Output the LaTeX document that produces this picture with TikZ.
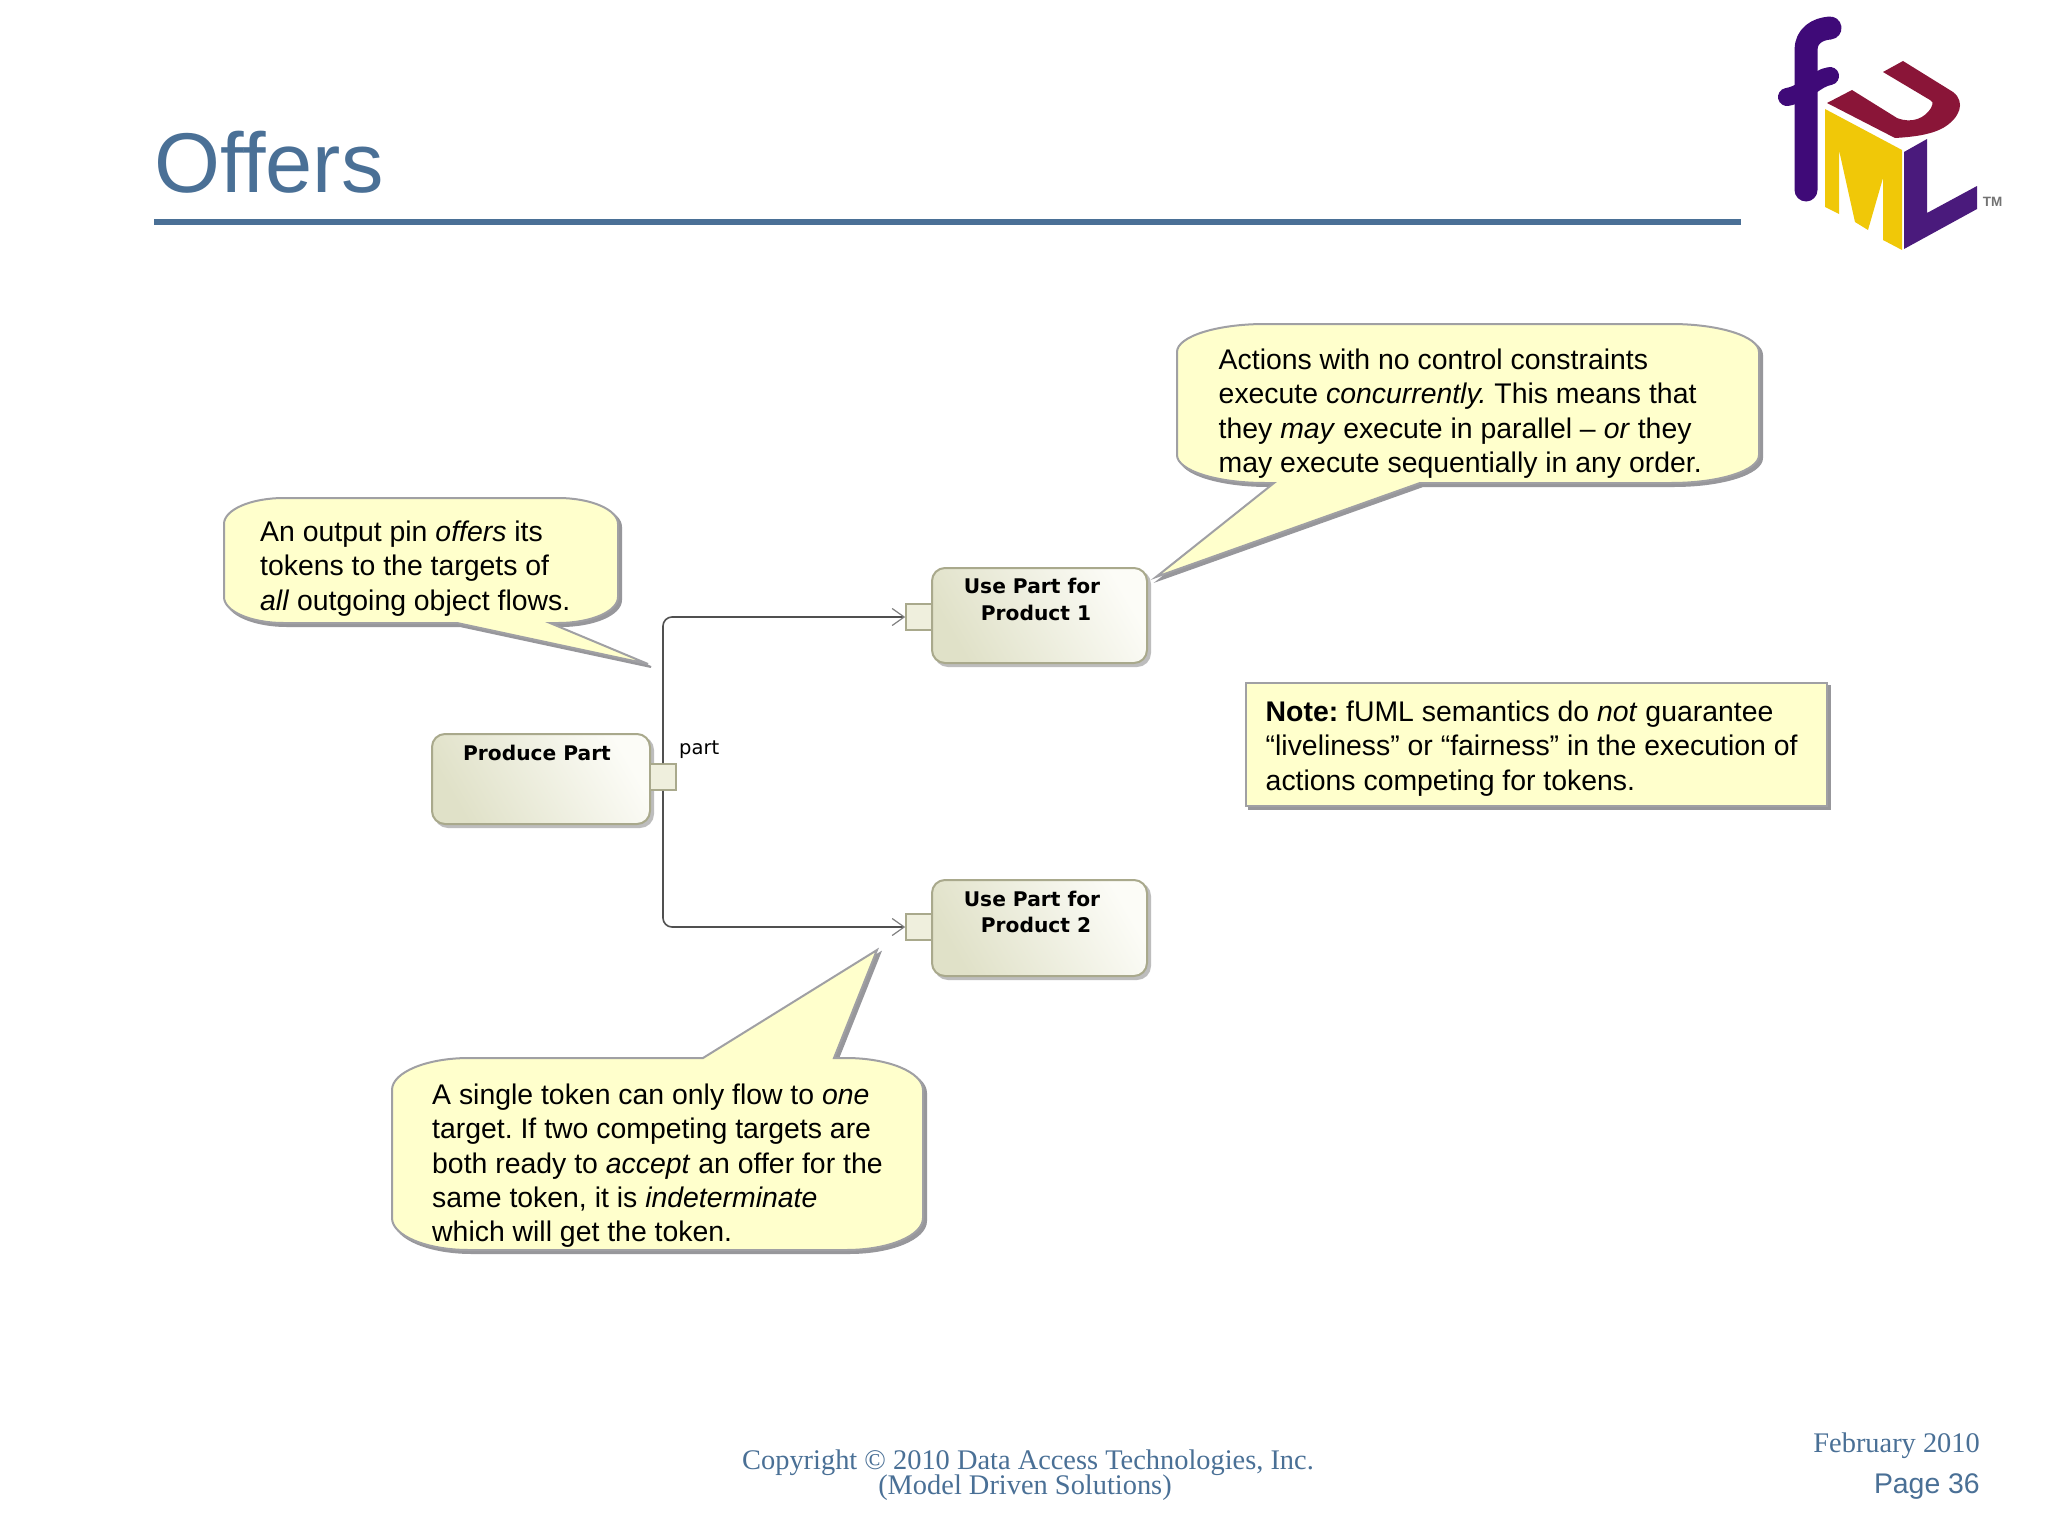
\documentclass[tikz,border=0pt]{standalone}
\usepackage{fontspec}
\setmainfont{Liberation Sans}
\newfontfamily\serifface{Liberation Serif}
\newfontfamily\boxface{DejaVu Sans}
\usetikzlibrary{arrows.meta}
\definecolor{slateblue}{HTML}{4A7096}
\definecolor{noteyellow}{HTML}{FFFFCC}
\definecolor{noteedge}{HTML}{A0A0A4}
\definecolor{shadowgray}{HTML}{97979B}
\definecolor{actedge}{HTML}{A9A98C}
\definecolor{actdark}{HTML}{E0E1C8}
\definecolor{actlight}{HTML}{FCFCF7}
\definecolor{actshadow}{HTML}{BDBDBD}
\definecolor{pinfill}{HTML}{EFEFDD}
\definecolor{flowline}{HTML}{505050}
\definecolor{fpurple}{HTML}{3F0A78}
\definecolor{lpurple}{HTML}{4A1A7C}
\definecolor{umaroon}{HTML}{8A1538}
\definecolor{myellow}{HTML}{F0C808}
\tikzset{
  x=1pt,y=-1pt,
  balloon/.style={draw=noteedge,line width=2pt,fill=noteyellow,line join=miter,
    preaction={draw=shadowgray,fill=shadowgray,line width=2pt,transform canvas={shift={(3pt,-3pt)}}}},
  blocktext/.style={inner sep=0pt,anchor=north west,align=left,text=black,font=\frenchspacing\fontsize{28.4}{34.2}\selectfont},
  notebox/.style={rectangle,inner sep=0pt,draw=noteedge,line width=2pt,fill=noteyellow,
    preaction={draw=shadowgray,fill=shadowgray,line width=2pt,transform canvas={shift={(3pt,-3pt)}}}},
  actionbox/.style={rectangle,rounded corners=13pt,inner sep=0pt,draw=actedge,line width=2pt,
    left color=actdark,right color=actlight,shading angle=120,
    preaction={draw=actshadow,fill=actshadow,line width=2pt,transform canvas={shift={(3pt,-3pt)}}}},
  pinbox/.style={rectangle,inner sep=0pt,draw=actedge,line width=1.6pt,fill=pinfill,minimum width=26pt,minimum height=26pt},
  actionlabel/.style={inner sep=0pt,anchor=base,text=black,font=\boxface\bfseries\fontsize{20.2}{26}\selectfont},
  flow/.style={draw=flowline,line width=1.6pt,rounded corners=9pt,
    -{Straight Barb[length=12pt,width=17pt,line width=1.2pt,color=gray]}},
  footer/.style={inner sep=0pt,anchor=base,text=slateblue,font=\serifface\fontsize{28.4}{30}\selectfont},
}
\begin{document}
\begin{tikzpicture}
\useasboundingbox (0,0) rectangle (2048,1536);
\fill[white] (0,0) rectangle (2048,1536);

% title
\node[inner sep=0pt,anchor=base west,text=slateblue,font=\fontsize{84.8}{90}\selectfont] (title) at (154,193) {Offers};
\fill[slateblue] (154,218.5) rectangle (1741,225);

% logo
\draw[fpurple,line width=23pt,line cap=round,line join=round]
  (1806,190) -- (1806,50) .. controls (1806,36) and (1817,29) .. (1830,28);
\draw[fpurple,line width=18pt,line cap=round] (1787,97) .. controls (1805,94) and (1816,78) .. (1830,76);
\fill[myellow] (1825,109) -- (1902,150) -- (1902,250) -- (1883,240) -- (1883,178) -- (1868,230) -- (1855,222) -- (1839,150) -- (1839,214) -- (1825,207) -- cycle;
\fill[umaroon] (1883,72) -- (1903,61) -- (1953,92) .. controls (1966,102) and (1960,118) .. (1943,128)
  .. controls (1930,135) and (1912,137) .. (1895,138) -- (1827,103) -- (1852,90) -- (1897,118)
  .. controls (1912,124) and (1925,118) .. (1931,108) .. controls (1934,102) and (1932,101) .. (1930,100) -- cycle;
\fill[lpurple] (1904,152) -- (1927,139) -- (1927,213) -- (1977,186) -- (1977,209) -- (1904,249) -- cycle;
\node[inner sep=0pt,anchor=center,text=black!55,font=\bfseries\fontsize{13.5}{14}\selectfont] (tm) at (1992.5,202) {TM};

% callouts
\draw[balloon] (1177,352) arc[start angle=180,end angle=90,x radius=88pt,y radius=28pt]
  -- (1671,324) arc[start angle=90,end angle=0,x radius=88pt,y radius=28pt]
  -- (1759,455) arc[start angle=0,end angle=-90,x radius=88pt,y radius=28pt]
  -- (1420,483) -- (1156,577) -- (1274,483)
  -- (1265,483) arc[start angle=270,end angle=180,x radius=88pt,y radius=28pt] -- cycle;
\node[blocktext] (t1) at (1218.5,349) {Actions with no control constraints\\execute \textit{concurrently.} This means that\\they \textit{may} execute in parallel – \textit{or} they\\may execute sequentially in any order.};

\draw[balloon] (224,524) arc[start angle=180,end angle=90,x radius=60pt,y radius=26pt]
  -- (558,498) arc[start angle=90,end angle=0,x radius=60pt,y radius=26pt]
  -- (618,597) arc[start angle=0,end angle=-90,x radius=60pt,y radius=26pt]
  -- (550,623) -- (648,664) -- (457,623)
  -- (284,623) arc[start angle=270,end angle=180,x radius=60pt,y radius=26pt] -- cycle;
\node[blocktext] (t2) at (260,521) {An output pin \textit{offers} its\\tokens to the targets of\\\textit{all} outgoing object flows.};

\draw[balloon] (392,1090) arc[start angle=180,end angle=90,x radius=77pt,y radius=32pt]
  -- (703,1058) -- (877,950) -- (834,1058)
  -- (846,1058) arc[start angle=90,end angle=0,x radius=77pt,y radius=32pt]
  -- (923,1218) arc[start angle=0,end angle=-90,x radius=77pt,y radius=32pt]
  -- (469,1250) arc[start angle=270,end angle=180,x radius=77pt,y radius=32pt] -- cycle;
\node[blocktext] (t3) at (432,1084) {A single token can only flow to \textit{one}\\target. If two competing targets are\\both ready to \textit{accept} an offer for the\\same token, it is \textit{indeterminate}\\which will get the token.};

% note
\node[notebox,minimum width=581pt,minimum height=123pt] (note) at (1536,744) {};
\node[blocktext] (notetext) at (1265.5,701) {\textbf{Note:} fUML semantics do \textit{not} guarantee\\“liveliness” or “fairness” in the execution of\\actions competing for tokens.};

% actions
\node[actionbox,minimum width=218pt,minimum height=90pt] (produce) at (541,779) {};
\node[actionbox,minimum width=215pt,minimum height=95pt] (use1) at (1039.5,615.5) {};
\node[actionbox,minimum width=215pt,minimum height=96pt] (use2) at (1039.5,928) {};
\node[pinbox] (pin0) at (663,777) {};
\node[pinbox] (pin1) at (919,617) {};
\node[pinbox] (pin2) at (919,927) {};
\draw[flow] (pin0.north) |- (pin1.west);
\draw[flow] (pin0.south) |- (pin2.west);

\node[actionlabel] (l0) at (537,760) {Produce Part};
\node[actionlabel] (l1a) at (1032,593) {Use Part for};
\node[actionlabel] (l1b) at (1036,620) {Product 1};
\node[actionlabel] (l2a) at (1032,906) {Use Part for};
\node[actionlabel] (l2b) at (1036,932) {Product 2};
\node[inner sep=0pt,anchor=base west,text=black,font=\boxface\fontsize{19.5}{24}\selectfont] (partlabel) at (679,754) {part};

% footer
\node[footer] (f1) at (1028,1469) {Copyright © 2010 Data Access Technologies, Inc.};
\node[footer] (f2) at (1025,1494) {(Model Driven Solutions)};
\node[footer,anchor=base east] (f3) at (1980,1452) {February 2010};
\node[inner sep=0pt,anchor=base east,text=slateblue,font=\fontsize{28.4}{30}\selectfont] (f4) at (1980,1493) {Page 36};
\end{tikzpicture}
\end{document}
